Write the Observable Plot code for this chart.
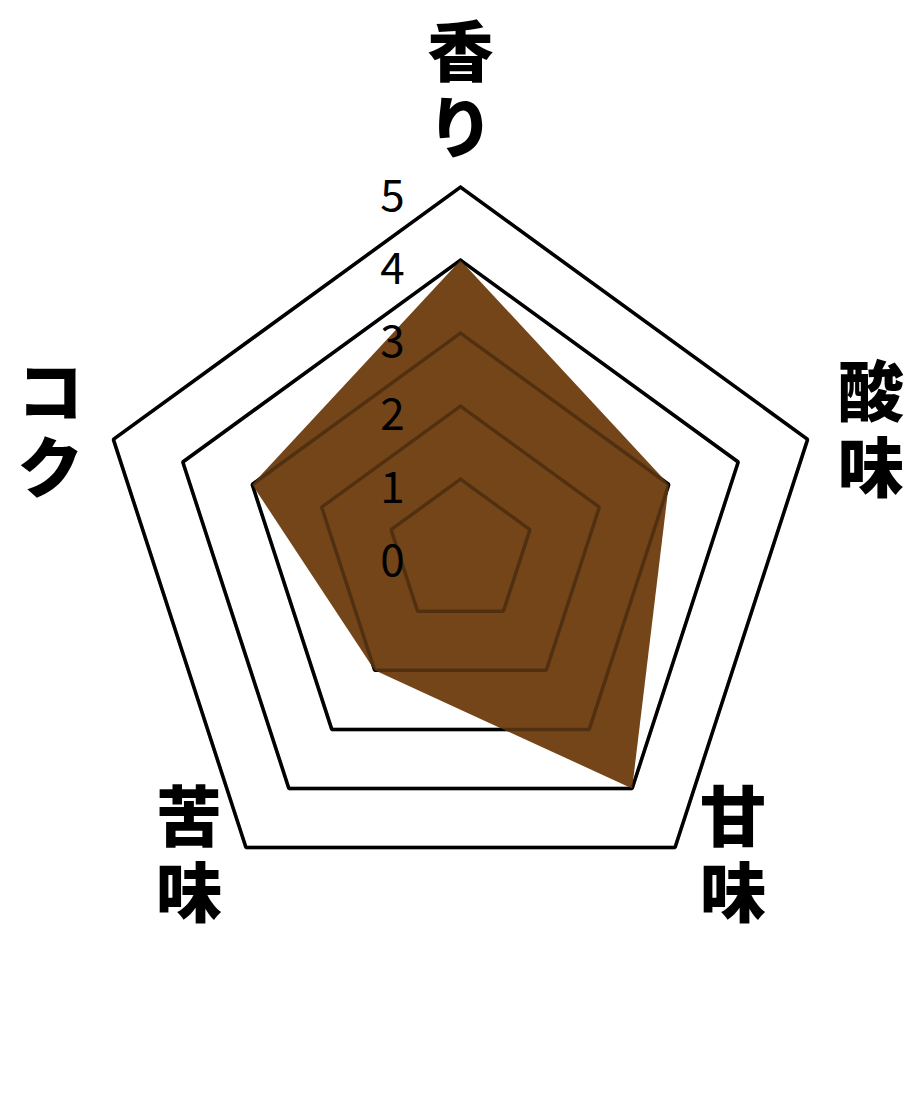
<!DOCTYPE html>
<html>
<head>
<meta charset="utf-8">
<script src="https://cdn.jsdelivr.net/npm/d3@7"></script>
<script src="https://cdn.jsdelivr.net/npm/@observablehq/plot@0.6"></script>
<style>
  html, body { margin: 0; padding: 0; background: #fff; }
  #chart svg { display: block; }
</style>
</head>
<body>
<div id="chart"></div>
<script>
// ---- data ----
const axes = ["香り", "酸味", "甘味", "苦味", "コク"];
const values = [4, 3, 4, 2, 3];
const levels = [1, 2, 3, 4, 5];
const tickLabels = ["0", "1", "2", "3", "4", "5"];

// ---- geometry helpers ----
const W = 920, H = 1104;
const unit = 73;          // pixels per level
const cx = 460, cy = 551.7;
const n = axes.length;
const ang = i => (2 * Math.PI * i) / n;
const px = (i, v) => v * Math.sin(ang(i));
const py = (i, v) => v * Math.cos(ang(i));

// grid rings
const ring = levels.flatMap(l =>
  d3.range(n + 1).map(k => ({ level: l, i: k % n }))
);
// data polygon (closed)
const poly = d3.range(n + 1).map(k => ({ i: k % n, v: values[k % n] }));
// axis labels: each character stacked vertically beside the outer vertex
const labelOffsets = [[0, -94], [63, -7], [58, 10], [-57, 10], [-63, -7]];
const chars = axes.flatMap((a, i) =>
  Array.from(a).map((c, j) => ({
    i, c,
    dx: labelOffsets[i][0],
    dy: labelOffsets[i][1] + (j - 0.5) * 76
  }))
);
const ticks = tickLabels.map((t, k) => ({ t, v: k }));

const chart = Plot.plot({
  width: W,
  height: H,
  margin: 0,
  x: { domain: [-cx / unit, (W - cx) / unit], range: [0, W], axis: null },
  y: { domain: [-(H - cy) / unit, cy / unit], range: [H, 0], axis: null },
  style: { background: "#fff" },
  marks: [
    Plot.line(ring, {
      x: d => px(d.i, d.level), y: d => py(d.i, d.level), z: "level",
      stroke: "#000", strokeWidth: 3.5, strokeLinejoin: "miter", curve: "linear"
    }),
    Plot.line(poly, {
      x: d => px(d.i, d.v), y: d => py(d.i, d.v),
      fill: "#744519", stroke: "none", curve: "linear"
    }),
    Plot.line(ring, {
      x: d => px(d.i, d.level), y: d => py(d.i, d.level), z: "level",
      stroke: "#000", strokeOpacity: 0.3, strokeWidth: 3.5, strokeLinejoin: "miter", curve: "linear"
    }),
    Plot.text(ticks, {
      x: () => 0, y: d => d.v, text: "t", dx: -68, dy: 10,
      fontSize: 44, fill: "#000", fontFamily: "'Noto Sans CJK JP', 'Noto Sans', sans-serif",
      fontWeight: 400, textAnchor: "middle"
    }),
    ...chars.map(ch => Plot.text([ch], {
      x: d => px(d.i, 5), y: d => py(d.i, 5), text: "c",
      dx: ch.dx, dy: ch.dy, lineAnchor: "middle",
      fontSize: 66, fontWeight: 900, fill: "#000",
      fontFamily: "'Noto Sans CJK JP', sans-serif", textAnchor: "middle"
    }))
  ]
});
document.getElementById("chart").appendChild(chart);
</script>
</body>
</html>
